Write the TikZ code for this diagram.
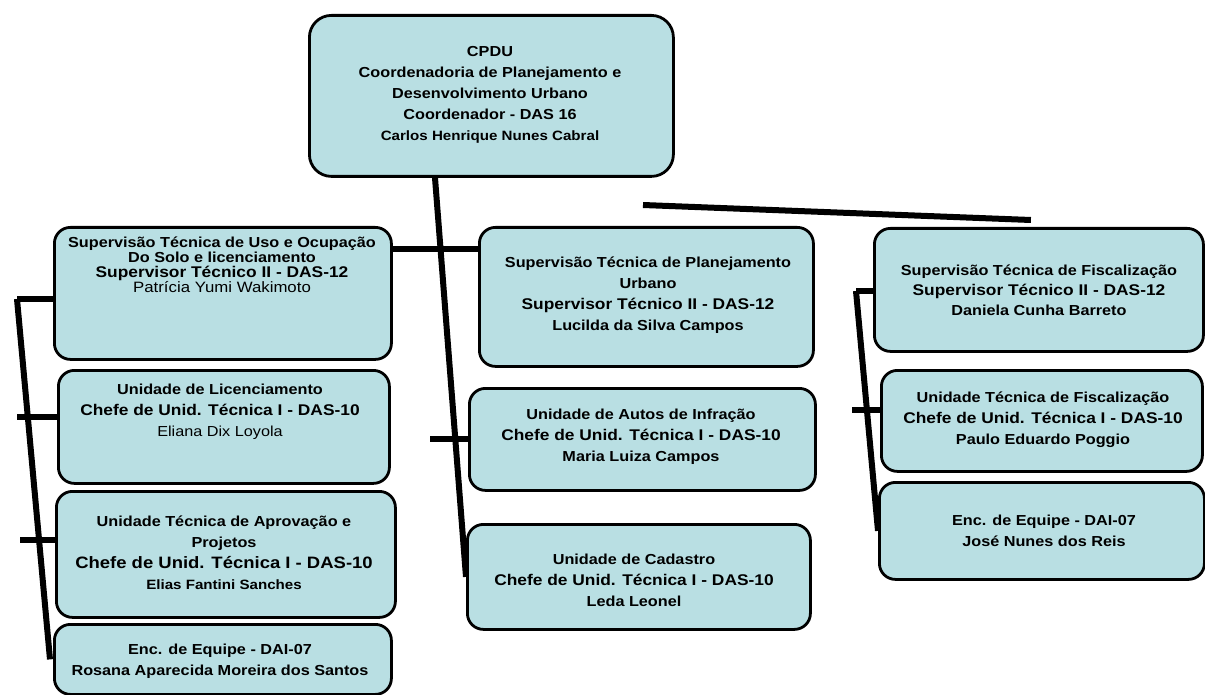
\documentclass[tikz,border=0pt]{standalone}
\usepackage{fontspec}
\setmainfont{Liberation Sans}[FakeStretch=1.12]
\definecolor{boxfill}{RGB}{185,223,227}
\newcommand\fsD{\fontsize{15.5}{21}\selectfont}
\newcommand\fsN{\fontsize{13.5}{21}\selectfont}
\begin{document}
\begin{tikzpicture}[x=1pt,y=-1pt,
  box/.style={draw=black, line width=2.8pt, fill=boxfill, rounded corners=16pt, anchor=north west, inner sep=0pt},
  conn/.style={draw=black, line width=6pt},
  txt/.style={align=center, inner sep=0pt, font=\bfseries\fontsize{14.5}{21}\selectfont}]
\useasboundingbox (0,0) rectangle (1205,695);
% boxes
\node[box, minimum width=364pt, minimum height=161pt, rounded corners=22pt] (T) at (308,14) {};
\node[box, minimum width=337pt, minimum height=132pt] (L1) at (53,226) {};
\node[box, minimum width=331pt, minimum height=113pt] (L2) at (57,369) {};
\node[box, minimum width=339pt, minimum height=126pt] (L3) at (55,490) {};
\node[box, minimum width=337pt, minimum height=70pt] (L4) at (53,623) {};
\node[box, minimum width=334pt, minimum height=139pt] (M1) at (478,226) {};
\node[box, minimum width=346pt, minimum height=102pt] (M2) at (468,387) {};
\node[box, minimum width=343pt, minimum height=105pt] (M3) at (466,523) {};
\node[box, minimum width=329pt, minimum height=123pt] (R1) at (873,227) {};
\node[box, minimum width=321pt, minimum height=101pt] (R2) at (880,369) {};
\node[box, minimum width=325pt, minimum height=97pt] (R3) at (878,481) {};
% texts
\node[txt] (Tt) at (490,95) {CPDU\\Coordenadoria de Planejamento e\\Desenvolvimento Urbano\\Coordenador - DAS 16\\{\fsN Carlos Henrique Nunes Cabral}};
\node[txt, font=\bfseries\fontsize{14.5}{15}\selectfont] (L1t) at (222,265) {Supervisão Técnica de Uso e Ocupação\\Do Solo e licenciamento\\{\fontsize{15.5}{15}\selectfont Supervisor Técnico II - DAS-12}\\{\mdseries\fontsize{15}{15}\selectfont Patrícia Yumi Wakimoto}};
\node[txt] (L2t) at (220,412) {Unidade de Licenciamento\\{\fsD Chefe de Unid. Técnica I - DAS-10}\\{\mdseries Eliana Dix Loyola}};
\node[txt] (L3t) at (224,553) {Unidade Técnica de Aprovação e\\Projetos\\{\fontsize{16.5}{21}\selectfont Chefe de Unid. Técnica I - DAS-10}\\{\fsN Elias Fantini Sanches}};
\node[txt] (L4t) at (220,661) {Enc. de Equipe - DAI-07\\Rosana Aparecida Moreira dos Santos};
\node[txt] (M1t) at (648,295) {Supervisão Técnica de Planejamento\\Urbano\\{\fsD Supervisor Técnico II - DAS-12}\\Lucilda da Silva Campos};
\node[txt] (M2t) at (641,437) {Unidade de Autos de Infração\\{\fsD Chefe de Unid. Técnica I - DAS-10}\\Maria Luiza Campos};
\node[txt] (M3t) at (634,580) {Unidade de Cadastro\\{\fsD Chefe de Unid. Técnica I - DAS-10}\\Leda Leonel};
\node[txt, font=\bfseries\fontsize{14.5}{20}\selectfont] (R1t) at (1039,290) {Supervisão Técnica de Fiscalização\\{\fontsize{15.5}{20}\selectfont Supervisor Técnico II - DAS-12}\\Daniela Cunha Barreto};
\node[txt] (R2t) at (1043,420) {Unidade Técnica de Fiscalização\\{\fsD Chefe de Unid. Técnica I - DAS-10}\\Paulo Eduardo Poggio};
\node[txt] (R3t) at (1044,531) {Enc. de Equipe - DAI-07\\José Nunes dos Reis};
% connectors
\coordinate (c1) at (435,0);
\coordinate (h1) at (0,249);
\coordinate (rs) at (643,205);
\coordinate (s1) at (17,299);
\coordinate (s2) at (17,417);
\coordinate (s3) at (20,540);
\coordinate (rb) at (856,291);
\coordinate (rb2) at (852,410);
\draw[conn] (T.south -| c1) -- (M3.west);
\draw[conn] (L1.east |- h1) -- (M1.west |- h1);
\draw[conn] (M2.west) -- ++(-38,0);
\draw[conn] (rs) -- ([xshift=-8pt,yshift=7pt]R1.north);
\draw[conn] (s1) -- ([xshift=-3pt]L4.west);
\draw[conn] (s1) -- (s1 -| L1.west);
\draw[conn] (s2) -- (s2 -| L2.west);
\draw[conn] (s3) -- (s3 -| L3.west);
\draw[conn] (rb) -- (R3.west);
\draw[conn] (rb) -- (rb -| R1.west);
\draw[conn] (rb2) -- (rb2 -| R2.west);
\end{tikzpicture}
\end{document}
